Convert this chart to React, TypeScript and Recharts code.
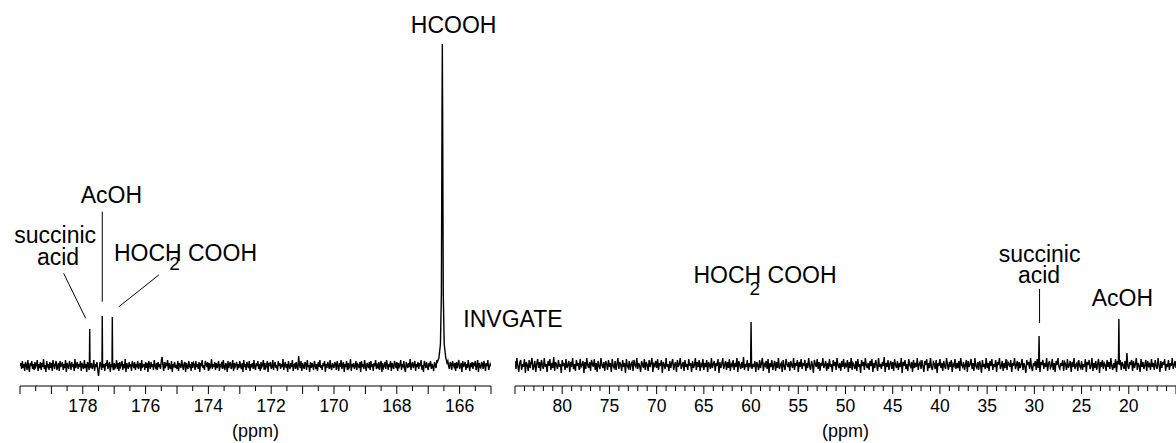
import React from "react";
import {
  LineChart,
  Line,
  XAxis,
  YAxis,
  ReferenceDot,
  ReferenceLine,
} from "recharts";

const FONT = "'Liberation Sans', Arial, Helvetica, sans-serif";

// left panel: 180 -> 165 ppm, noise read every 0.025 ppm (height in px above baseline)
const leftStart = 180;
const leftStep = 0.025;
const leftNoise = [
  -2, 1, -5, 3, -4, 0, -7, 2, -1, -6, 4, -3, -8, 1, -2, 3, -5, 0, -6, 2, -3, -1, 4, -7, 0,
  -4, 2, -6, 1, -3, 5, -5, -1, -8, 3, -2, 0, -6, 2, -4, 1, -7, 4, -1, -5, 0, 3, -6, -2, 1,
  -7, 3, -3, -1, 2, -6, 0, -4, 4, -8, 1, -2, -5, 3, -1, -6, 2, -3, 0, -7, 5, -4, -1, 2, -5,
  0, -3, 3, -7, 1, -2, -5, 4, -4, 0, -8, 2, -1, -6, 3, -3, 1, -5, -2, 4, -7, 0, -3, 2, -6,
  -12, -4, 2, -1, -6, 3, -3, 0, -7, 1, -2, 4, -5, -1, 2, -8, 0, -3, 3, -6, 1, -4, -2, 4, -5,
  1, -7, 2, -3, -1, 3, -6, 0, -4, 5, -8, 1, -2, -5, 2, -3, 0, -7, 3, -1, -4, 2, -6, 0, -2,
  3, -5, -1, 1, -7, 4, -3, -2, 0, -6, 2, -4, 1, -8, 3, -1, -5, 2, -3, 0, -6, 4, -2, -4, 1,
  -6, 2, -3, 0, -5, 3, 7, -1, -7, 2, -4, 0, -2, 4, -6, 1, -3, -5, 3, -8, 0, -2, 2, -4, -1,
  -5, 3, -7, 1, -2, -4, 4, -1, -6, 0, 2, -8, 1, -3, -5, 3, -2, 0, -7, 2, -4, 1, -1, -6, 3,
  -3, 0, -5, 2, -8, 1, -2, 4, -4, -1, -6, 3, 0, -3, 2, -7, 1, -4, -2, 5, -5, 0, -3, 2, -6,
  1, -4, -1, 3, -7, 0, -2, 2, -5, 4, -3, -6, 1, -1, -8, 3, -4, 0, 2, -5, -2, 4, -7, 1, -3,
  -1, 2, -6, 0, -4, 3, -2, -5, 1, -8, 4, -3, 0, -6, 2, -1, -4, 3, -7, 0, -2, 1, -5, 4, -3,
  -6, 1, -2, 3, -5, 0, -7, 2, -3, -1, 4, -6, 1, -4, -2, 3, -8, 0, -1, 2, -5, -3, 4, -6, 0,
  2, -4, -1, -7, 3, -2, 1, -5, 0, -3, 5, -6, -1, 2, -4, 0, -8, 3, -2, -5, 1, -3, 4, -7, -1,
  0, -5, 2, -3, -6, 8, -1, -4, 3, -7, 1, -2, -5, 2, 0, -6, 4, -3, -1, -8, 2, -4, 1, -2, -6,
  3, -1, -5, 0, -7, 2, -3, 4, -4, -1, -6, 1, -2, 3, -8, 0, -4, 2, -1, -5, 4, -3, -6, 1, -2,
  -4, 2, 0, -6, 3, -2, -7, 1, -3, 4, -5, -1, 2, -8, 0, -3, 3, -6, 1, -4, -2, 5, -7, 0, -3,
  1, -5, -2, 3, -6, 0, -1, -4, 2, -8, 3, -3, 0, -5, 4, -2, -7, 1, -1, -4, 2, -6, 3, -3, 0,
  -7, 1, -2, 4, -5, -1, -3, 2, -6, 0, 3, -8, 1, -4, -2, 2, -5, 4, -1, -6, 0, -3, 3, -7, 1,
  -2, -5, 3, 0, -4, 2, -7, 1, -3, -1, 4, -6, 0, -2, 3, -5, -8, 2, -1, -4, 1, -3, 5, -6, -1,
  2, -4, -1, 3, -7, 0, -3, 2, -5, 1, -2, 4, -6, -1, -8, 3, 0, -4, 2, -3, -6, 1, -1, 3, -5,
  0, -3, -7, 2, -1, -4, 4, -6, 1, -2, -5, 3, -3, 0, -8, 2, -4, 1, -1, -6, 3, -2, -5, 2, 0,
  -6, 3, -1, -3, 1, -7, 2, -4, 0, 4, -5, -2, 1, -8, 3, -3, -1, 2, -6, 0, -4, 4, -2, -7, 1,
  -3, 2, -5, 0, -1, 3, -6, -2, 4, -8, 1, -3, -4, 2, 0, -5, 3, -1, -7, 1, -2, 4, -6, -3, 0,
  -2,
];
const succinicLeft = [[177.79, -1], [177.78, 35], [177.77, -2]];
const acohLeft = [[177.39, -2], [177.38, 48], [177.37, -3]];
const glycolicLeft = [[177.07, -1], [177.06, 47], [177.05, -2]];
const formicLeft = [
  [166.72, 1], [166.66, 6], [166.61, 20], [166.58, 70], [166.56, 250], [166.55, 320],
  [166.54, 250], [166.52, 70], [166.49, 20], [166.44, 6], [166.4, 1],
];
const leftLabels = [178, 176, 174, 172, 170, 168, 166];

// right panel: 85 -> 15 ppm, noise read every 0.1 ppm
const rightStart = 85;
const rightStep = 0.1;
const rightNoise = [
  3, -5, 6, -2, -8, 1, 4, -6, 0, -3, 5, -9, 2, -1, -7, 4, -4, 1, 6, -6, -2, 3, -8, 0, 5,
  -4, 2, -7, 4, -1, -5, 6, -3, 0, -8, 3, -2, 5, -6, 1, -4, 7, -7, 2, -1, -5, 4, -3, 0, -9,
  4, -2, 1, -6, 5, -4, -1, 3, -8, 2, -3, 6, -5, 0, -7, 4, -2, 1, -6, 5, -3, -1, 3, -9, 2,
  -5, 6, -1, -4, 2, -7, 4, 0, -3, 5, -6, 1, -8, 3, -2, -5, 6, -1, -4, 2, -7, 3, 0, -6, 4,
  -3, 1, -8, 5, -2, -4, 3, -6, 0, 6, -5, 2, -1, -7, 4, -3, 1, -9, 5, -2, -4, 3, -6, 0, 2,
  -7, 4, -1, -3, 6, -5, 1, -2, -8, 3, 0, -4, 5, -6, 2, -1, -7, 4, -3, 1, 6, -8, 0, -2, 3,
  -4, 5, -6, 1, -2, 4, -9, 2, -1, -5, 6, -3, 0, -7, 3, -4, 1, 5, -6, -1, 2, -8, 4, -3, 0,
  6, -5, -1, 2, -7, 4, -3, 0, -6, 5, -2, 1, -8, 3, -4, -1, 6, -6, 2, -3, 4, -7, 0, -2, 5,
  -6, 1, -3, 4, -8, 2, -1, -5, 6, -4, 0, 3, -7, 1, -2, 5, -9, 2, -4, 0, 6, -5, -1, 3, -6,
  2, -4, 5, -7, 0, -2, 4, -6, 1, -3, 6, -8, 3, -1, -5, 2, -4, 7, -6, 0, -3, 4, -7, 1, -2,
  5, -5, 0, -3, 3, -8, 2, -1, -6, 4, -4, 1, 6, -7, 0, -2, 3, -5, 5, -9, 1, -3, 4, -6, -1,
  3, -7, 2, -4, 6, -5, -1, 1, -8, 4, -2, -6, 5, 0, -3, 2, -7, 3, -1, -4, 6, -6, 1, -2, 4,
  -8, 2, -3, 5, -5, 0, -1, 4, -7, 1, -4, 6, -2, -6, 3, -1, -9, 4, 0, -3, 5, -5, 2, -7, 1,
  -2, 6, -4, -1, 3, -7, 1, -5, 5, -3, 0, -8, 4, -2, 2, -6, 6, -1, -4, 1, -7, 3, -3, 5, -5,
  0, -2, 4, -8, 2, -4, 6, -6, 1, -1, -5, 3, -7, 5, -3, 0, -9, 4, -2, 2, -6, 6, -1, -4, 1,
  -6, 3, -2, 5, -8, 1, -4, 4, -1, -7, 6, -3, 0, -5, 2, -2, 7, -8, 1, -3, 4, -6, 0, 3, -5,
  2, -7, 5, -1, -4, 3, -6, 1, -3, 6, -9, 2, -2, 4, -5, 0, -7, 5, -1, -3, 2, -8, 4, -4, 1,
  -3, 6, -6, 0, 2, -5, 4, -2, -8, 3, -1, 5, -7, 1, -4, 6, -3, -6, 2, 0, -5, 4, -9, 1, -2,
  5, -4, 1, -7, 3, -2, -5, 6, -1, -6, 2, -3, 4, -8, 0, -2, 5, -5, 1, -4, 3, -7, 6, -1, -3,
  2, -6, -1, 4, -8, 3, -3, 0, 5, -5, 1, -7, 6, -2, -4, 2, -6, 3, -1, -9, 4, -3, 0, -5, 6,
  -4, 1, -7, 3, -2, 5, -6, 0, -3, 4, -8, 2, -1, 6, -5, -2, 3, -7, 1, -4, 5, -6, 2, 0, -3,
  4, -8, 1, -2, 6, -5, -1, 3, -7, 2, -4, 0, 5, -6, 1, -3, -9, 4, -1, 2, -5, 6, -3, -7, 1,
  -2, 3, -6, 5, -4, 0, -8, 2, -1, 4, -5, 1, -3, 6, -7, 0, 3, -4, -2, 5, -6, 1, -8, 3, -1,
  6, -3, -5, 1, -2, 4, -7, 2, 0, -6, 5, -4, -1, 3, -8, 2, -3, 6, -5, -1, 1, -7, 4, -2, -4,
  3, -6, 0, -3, 5, -8, 2, -1, 4, -5, -2, 6, -7, 1, -4, 3, -6, 0, 5, -9, 2, -3, 4, -5, 1,
  -1, -7, 4, -3, 2, -5, 6, -2, -6, 1, -4, 5, -8, 3, 0, -3, 4, -6, 2, -1, -5, 3, -7, 11, -2,
  -5, 2, -1, 4, -7, 3, -4, 0, 6, -6, 1, -2, -8, 5, -3, 2, -5, -1, 4, -7, 3, -2, 0, -6, 5,
  -3, 1, -6, 4, -2, -5, 6, -1, -8, 3, -4, 2, -1, 5, -7, 0, -3, 4, -6, 1, -2, 6, -5, -1, 3,
  -4,
];
const glycolicRight = [[60.05, 0], [60.0, 42], [59.95, -1]];
const succinicRight = [[29.55, 1], [29.5, 28], [29.45, -2]];
const acohRight = [[21.1, 0], [21.05, 45], [21.0, -1]];
const rightLabels = [80, 75, 70, 65, 60, 55, 50, 45, 40, 35, 30, 25, 20];

type Note = { text: string; ppm: number; v: number; anchor: string; size: number };

const leftNotes: Note[] = [
  { text: "HCOOH", ppm: 166.19, v: 330.7, anchor: "middle", size: 23 },
  { text: "AcOH", ppm: 177.09, v: 160.7, anchor: "middle", size: 23 },
  { text: "succinic", ppm: 178.88, v: 120.7, anchor: "middle", size: 23 },
  { text: "acid", ppm: 178.79, v: 99, anchor: "middle", size: 23 },
  { text: "HOCH COOH", ppm: 177.01, v: 103.3, anchor: "start", size: 23 },
  { text: "2", ppm: 175.08, v: 94, anchor: "middle", size: 19 },
  { text: "INVGATE", ppm: 165.88, v: 37.3, anchor: "start", size: 23 },
];
const leftLeaders = [
  [[177.38, 152.3], [177.38, 62.3]],
  [[178.61, 90.7], [177.91, 45.7]],
  [[175.58, 89], [176.85, 57.3]],
];

const rightNotes: Note[] = [
  { text: "HOCH COOH", ppm: 66.1, v: 81, anchor: "start", size: 23 },
  { text: "2", ppm: 59.6, v: 69, anchor: "middle", size: 19 },
  { text: "succinic", ppm: 29.45, v: 102, anchor: "middle", size: 23 },
  { text: "acid", ppm: 29.5, v: 80.7, anchor: "middle", size: 23 },
  { text: "AcOH", ppm: 20.67, v: 58, anchor: "middle", size: 23 },
];
const rightLeaders = [[[29.45, 75], [29.45, 41]]];

const buildSeries = (start: number, step: number, noise: number[], peaks: number[][][]) => {
  const pts = noise.map((v, i) => ({ ppm: +(start - i * step).toFixed(3), v }));
  const kept = pts.filter(
    (p) =>
      !peaks.some((pk) => {
        const xs = pk.map((q) => q[0]);
        return p.ppm <= Math.max(...xs) && p.ppm >= Math.min(...xs);
      })
  );
  const all = kept.concat(peaks.flat().map(([ppm, v]) => ({ ppm, v })));
  return all.sort((a, b) => b.ppm - a.ppm);
};

const leftData = buildSeries(leftStart, leftStep, leftNoise, [succinicLeft, acohLeft, glycolicLeft, formicLeft]);
const rightData = buildSeries(rightStart, rightStep, rightNoise, [glycolicRight, succinicRight, acohRight]);

const makeTicks = (lo: number, hi: number, step: number) => {
  const out: number[] = [];
  for (let t = lo; t <= hi + 1e-9; t += step) out.push(+t.toFixed(2));
  return out;
};

const makeTick = (labels: number[], majorStep: number) => (props: any) => {
  const { x, y, payload } = props;
  const v = payload.value;
  const major = Math.abs(v / majorStep - Math.round(v / majorStep)) < 1e-6;
  return (
    <g>
      <line x1={x} x2={x} y1={y} y2={y + (major ? 8 : 5)} stroke="#000" strokeWidth={1} />
      {labels.includes(v) && (
        <text x={x} y={y + 25.5} textAnchor="middle" fontSize={17.5} fontFamily={FONT} fill="#000">
          {v}
        </text>
      )}
    </g>
  );
};

const ppmLabel = (props: any) => {
  const vb = props.viewBox;
  return (
    <text x={vb.x + vb.width / 2} y={vb.y + 50.5} textAnchor="middle" fontSize={18} fontFamily={FONT} fill="#000">
      (ppm)
    </text>
  );
};

const Panel = ({
  data, domain, ticks, labels, majorStep, notes, leaders, width, left, right,
}: {
  data: { ppm: number; v: number }[];
  domain: number[];
  ticks: number[];
  labels: number[];
  majorStep: number;
  notes: Note[];
  leaders: number[][][];
  width: number;
  left: number;
  right: number;
}) => (
  <LineChart width={width} height={443} data={data} margin={{ top: 24, right, bottom: 0, left }}>
    <XAxis
      dataKey="ppm"
      type="number"
      domain={domain}
      reversed
      allowDataOverflow
      ticks={ticks}
      interval={0}
      tickSize={0}
      tickMargin={0}
      tickLine={false}
      tick={makeTick(labels, majorStep)}
      axisLine={{ stroke: "#000", strokeWidth: 1 }}
      height={57}
      label={{ content: ppmLabel }}
    />
    <YAxis hide type="number" domain={[-22, 340]} allowDataOverflow />
    <Line
      type="linear"
      dataKey="v"
      stroke="#000"
      strokeWidth={1.4}
      dot={false}
      isAnimationActive={false}
    />
    {leaders.map((seg, i) => (
      <ReferenceLine
        key={"l" + i}
        segment={[{ x: seg[0][0], y: seg[0][1] }, { x: seg[1][0], y: seg[1][1] }]}
        stroke="#000"
        strokeWidth={1}
        ifOverflow="visible"
      />
    ))}
    {notes.map((n) => (
      <ReferenceDot
        key={n.text}
        x={n.ppm}
        y={n.v}
        r={0}
        ifOverflow="visible"
        shape={(p: any) => (
          <text x={p.cx} y={p.cy} textAnchor={n.anchor as any} fontSize={n.size} fontFamily={FONT} fill="#000">
            {n.text}
          </text>
        )}
      />
    ))}
  </LineChart>
);

export default function App() {
  return (
    <div
      style={{
        position: "absolute",
        left: 0,
        top: 0,
        width: 1176,
        height: 443,
        overflow: "hidden",
        background: "#fff",
      }}
    >
      <div style={{ position: "absolute", left: 0, top: 0 }}>
        <Panel
          data={leftData}
          domain={[165, 180]}
          ticks={makeTicks(165, 180, 0.5)}
          labels={leftLabels}
          majorStep={1}
          notes={leftNotes}
          leaders={leftLeaders}
          width={600}
          left={20}
          right={109}
        />
      </div>
      <div style={{ position: "absolute", left: 500, top: 0 }}>
        <Panel
          data={rightData}
          domain={[15, 85]}
          ticks={makeTicks(15, 85, 1)}
          labels={rightLabels}
          majorStep={5}
          notes={rightNotes}
          leaders={rightLeaders}
          width={676}
          left={15}
          right={0}
        />
      </div>
    </div>
  );
}
